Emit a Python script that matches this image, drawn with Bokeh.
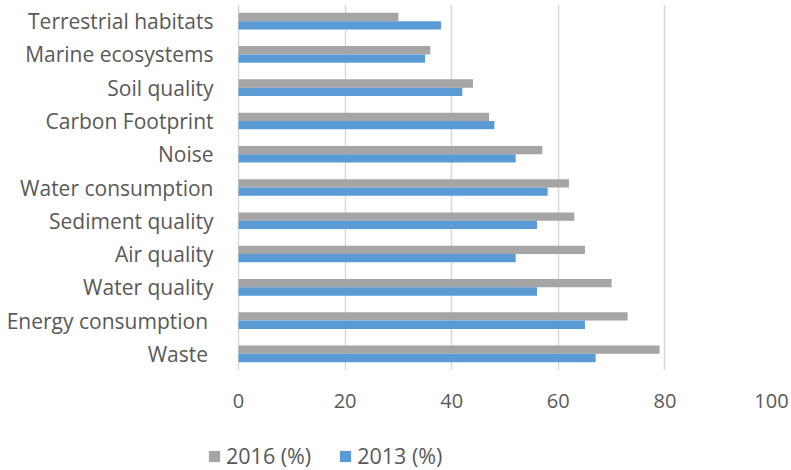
from bokeh.plotting import figure
from bokeh.models import ColumnDataSource, Range1d, FixedTicker, Legend, LegendItem
from bokeh.layouts import column
from bokeh.transform import dodge
from bokeh.embed import file_html
from bokeh.resources import INLINE

categories = ["Terrestrial habitats", "Marine ecosystems", "Soil quality", "Carbon Footprint",
              "Noise", "Water consumption", "Sediment quality", "Air quality",
              "Water quality", "Energy consumption ", "Waste "]
values_2016 = [30, 36, 44, 47, 57, 62, 63, 65, 70, 73, 79]
values_2013 = [38, 35, 42, 48, 52, 58, 56, 52, 56, 65, 67]
series_names = ["2016 (%)", "2013 (%)"]
x_ticks = [0, 20, 40, 60, 80, 100]

n = len(categories)
positions = [n - 1 - i for i in range(n)]
src = ColumnDataSource(dict(cat=categories, pos=positions, v2016=values_2016, v2013=values_2013))

FONT = "Open Sans"
TXT = "#595959"
GRAY = "#A5A5A5"
BLUE = "#5B9BD5"

# layout (pixels)
frame_left = 203
zero_px = 238
hundred_px = 771
label_right = 213
legend_left = 207
px_per_unit = (hundred_px - zero_px) / 100.0
x_start = -(zero_px - frame_left) / px_per_unit

# ---- main chart ----
p = figure(frame_width=hundred_px - frame_left, frame_height=366,
           output_backend="svg", toolbar_location=None,
           x_range=Range1d(x_start, 100), y_range=Range1d(-0.5, n - 0.5),
           min_border_left=frame_left, min_border_right=20, min_border_top=4,
           min_border_bottom=46)
p.outline_line_color = None
p.background_fill_color = "white"
p.border_fill_color = "white"

p.hbar(y=dodge("pos", 0.125), right="v2016", left=0, height=0.25, source=src,
       fill_color=GRAY, line_color=None)
p.hbar(y=dodge("pos", -0.125), right="v2013", left=0, height=0.25, source=src,
       fill_color=BLUE, line_color=None)

p.xaxis.ticker = FixedTicker(ticks=x_ticks)
p.xaxis.axis_line_color = None
p.xaxis.major_tick_line_color = None
p.xaxis.minor_tick_line_color = None
p.xaxis.major_tick_out = 0
p.xaxis.minor_tick_out = 0
p.xaxis.major_label_standoff = 23
p.xaxis.major_label_text_font = FONT
p.xaxis.major_label_text_font_size = "20px"
p.xaxis.major_label_text_color = TXT

p.yaxis.ticker = FixedTicker(ticks=positions)
p.yaxis.major_label_overrides = {pos: c for pos, c in zip(positions, categories)}
p.yaxis.axis_line_color = None
p.yaxis.major_tick_line_color = None
p.yaxis.minor_tick_line_color = None
p.yaxis.major_tick_out = 0
p.yaxis.minor_tick_out = 0
p.yaxis.major_label_standoff = -(label_right - frame_left)
p.yaxis.major_label_text_font = FONT
p.yaxis.major_label_text_font_size = "21px"
p.yaxis.major_label_text_color = TXT

p.xgrid.ticker = FixedTicker(ticks=x_ticks)
p.xgrid.grid_line_color = "#D9D9D9"
p.xgrid.grid_line_width = 1.5
p.ygrid.grid_line_color = None

# ---- legend strip ----
lg = figure(width=791, height=54, output_backend="svg", toolbar_location=None,
            x_range=Range1d(0, 1), y_range=Range1d(0, 1),
            x_axis_location=None, y_axis_location=None, min_border=0)
lg.outline_line_color = None
lg.xgrid.grid_line_color = None
lg.ygrid.grid_line_color = None
lg.background_fill_color = "white"
lg.border_fill_color = "white"

k16 = lg.hbar(y="pos", right="v2016", left=0, height=0.25, source=src,
              fill_color=GRAY, line_color=None, visible=False)
k13 = lg.hbar(y="pos", right="v2013", left=0, height=0.25, source=src,
              fill_color=BLUE, line_color=None, visible=False)

legend = Legend(items=[LegendItem(label=series_names[0], renderers=[k16]),
                       LegendItem(label=series_names[1], renderers=[k13])],
                orientation="horizontal", location=(legend_left - frame_left, 0))
legend.border_line_color = None
legend.background_fill_alpha = 0
legend.inactive_fill_alpha = 0
legend.glyph_width = 14
legend.glyph_height = 14
legend.label_standoff = 5
legend.spacing = 27
legend.padding = 0
legend.margin = 0
legend.label_text_font = FONT
legend.label_text_font_size = "21.5px"
legend.label_text_color = TXT
lg.add_layout(legend, "center")

layout = column(p, lg, spacing=0)
open("out.html", "w").write(file_html(layout, INLINE))
